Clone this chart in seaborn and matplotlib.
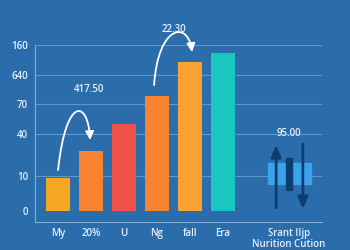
import matplotlib
matplotlib.use("Agg")
import matplotlib.pyplot as plt
from matplotlib.patches import Rectangle, FancyArrowPatch
from matplotlib.path import Path
import seaborn as sns
import pandas as pd

# ---- data ----
categories = ["My", "20%", "U", "Ng", "fall", "Era"]
values = [33, 60, 87, 115, 149, 158]
bar_colors = ["#f6a623", "#f7822f", "#ee5148", "#f8832f", "#f9a233", "#19c6c0"]
extra_slots = [" ", "Srant IIjp\nNurition Cution"]
ytick_pos = [0, 35, 77, 107, 136, 166]
ytick_labels = ["0", "10", "40", "70", "640", "160"]
ann1_text = "417.50"
ann1_curve = [(0.0, 41), (0.24, 116), (0.91, 111), (0.97, 71)]
ann1_label_pos = (0.95, 121)
ann2_text = "22.30"
ann2_curve = [(2.91, 126), (3.03, 186), (3.94, 191), (4.06, 159)]
ann2_label_pos = (3.5, 181)
icon_label = "95.00"
icon_slot = 7
icon_up = (-0.39, 3, 66)      # x offset, y from, y to
icon_down = (0.42, 67, 2)
icon_bar = (0.0, 21, 53)      # x offset, y low, y high
icon_box = (-0.64, 0.67, 27, 48)
icon_label_y = 78

BG = "#2b6cab"
TXT = "#e6f0fa"
GRID = "#5d96c9"

sns.set_style("white")
plt.rcParams["font.family"] = ["Open Sans", "DejaVu Sans"]

fig = plt.figure(figsize=(3.5, 2.5), dpi=100, facecolor=BG)
ax = fig.add_axes([0.10, 0.112, 0.82, 0.708])
ax.set_facecolor(BG)

df = pd.DataFrame({"cat": categories, "val": values})
order = categories + extra_slots
sns.barplot(data=df, x="cat", y="val", order=order, hue="cat",
            palette=dict(zip(categories, bar_colors)), legend=False,
            width=0.72, saturation=1, linewidth=0, edgecolor="none",
            ax=ax, zorder=3)

ax.set_xlim(-0.7, 8.0)
ax.set_ylim(-11, 166)
ax.set_xlabel("")
ax.set_ylabel("")

for y in ytick_pos[1:]:
    ax.axhline(y, color=GRID, lw=0.8, zorder=1)

ax.set_yticks(ytick_pos)
ax.set_yticklabels(ytick_labels)
ax.set_xticks(range(len(order)))
ax.set_xticklabels(order)
ax.tick_params(axis="both", length=0, colors=TXT, labelsize=7)
ax.tick_params(axis="y", pad=5)
ax.tick_params(axis="x", pad=4)
for lab in ax.get_xticklabels() + ax.get_yticklabels():
    lab.set_fontweight("semibold")
    lab.set_linespacing(1.0)

for s in ["top", "right"]:
    ax.spines[s].set_visible(False)
for s in ["left", "bottom"]:
    ax.spines[s].set_color("#7fb0dc")
    ax.spines[s].set_linewidth(0.8)

# curved arrow annotations
codes = [Path.MOVETO, Path.CURVE4, Path.CURVE4, Path.CURVE4]
for txt, curve, lp in [(ann1_text, ann1_curve, ann1_label_pos),
                       (ann2_text, ann2_curve, ann2_label_pos)]:
    arr = FancyArrowPatch(path=Path(curve, codes),
                          arrowstyle="-|>,head_length=5,head_width=2.5",
                          color="white", lw=1.3, transform=ax.transData,
                          clip_on=False, zorder=5)
    ax.add_patch(arr)
    ax.text(lp[0], lp[1], txt, color=TXT, fontsize=7, fontweight="semibold",
            ha="center", va="center", clip_on=False, zorder=6)

# icon group
bx0, bx1, by0, by1 = icon_box
ax.add_patch(Rectangle((icon_slot + bx0, by0), bx1 - bx0, by1 - by0,
                       color="#3aa3ea", zorder=3))
ax.add_patch(Rectangle((icon_slot + icon_bar[0] - 0.09, icon_bar[1]), 0.18,
                       icon_bar[2] - icon_bar[1], color="#0e3d72", zorder=4))
for dx, y0, y1 in [icon_up, icon_down]:
    ax.annotate("", xy=(icon_slot + dx, y1), xytext=(icon_slot + dx, y0),
                arrowprops=dict(arrowstyle="-|>,head_length=0.7,head_width=0.3",
                                color="#0e3d72", lw=2.0, shrinkA=0, shrinkB=0),
                zorder=5)
ax.text(icon_slot, icon_label_y, icon_label, color=TXT, fontsize=7,
        fontweight="semibold", ha="center", va="center", zorder=6)

fig.savefig("out.png", dpi=100, facecolor=BG)
